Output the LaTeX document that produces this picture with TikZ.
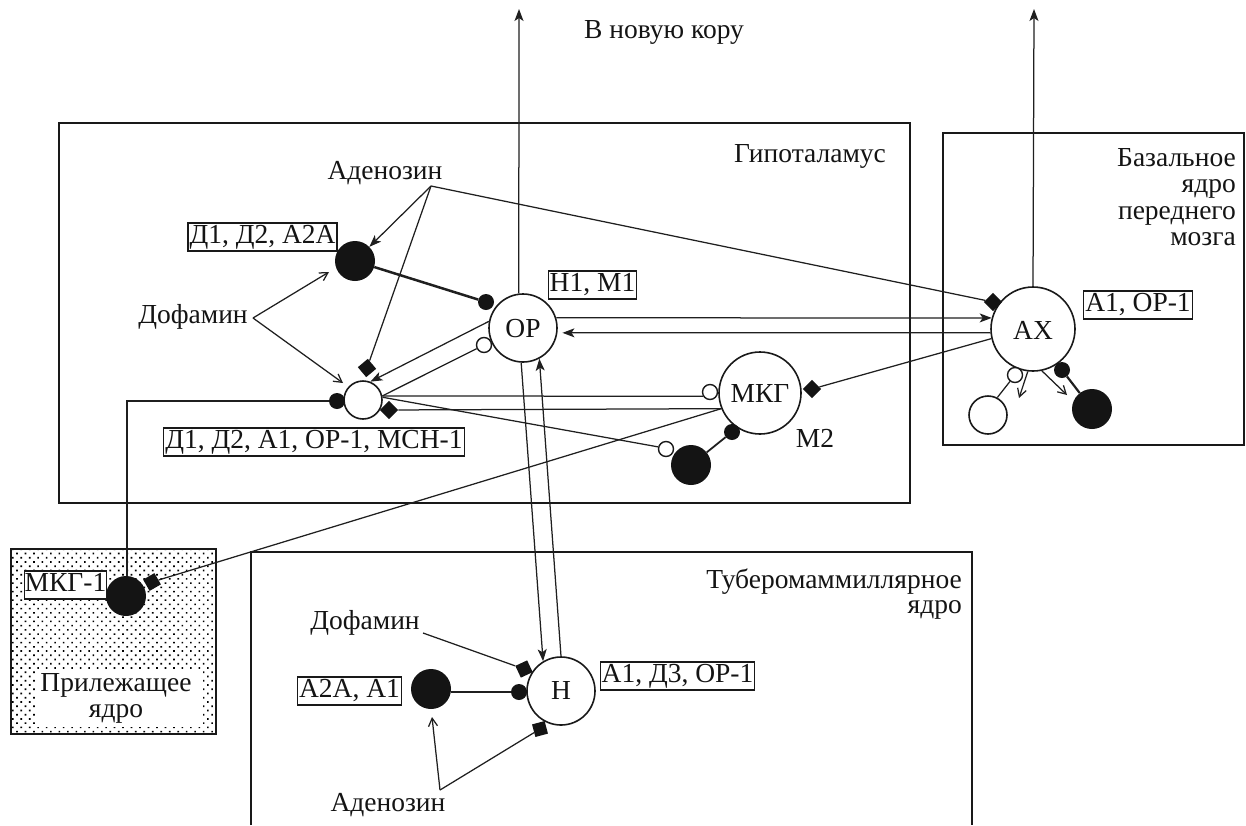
\documentclass[tikz,border=0pt]{standalone}
\usepackage{fontspec}
\setmainfont{Liberation Serif}
\usetikzlibrary{arrows.meta,patterns.meta}
\tikzset{
  x=1pt,y=-1pt,
  every node/.style={font=\fontsize{27.5}{28}\selectfont,text=black!92},
  txt/.style={anchor=base,inner sep=0pt,yshift=-1.2pt},
  lab/.style={anchor=base,draw=black!90,line width=1.2pt,fill=white,inner xsep=1.5pt,inner ysep=1pt,text height=19pt,text depth=7pt,yshift=-1pt},
  nbox/.style={draw=black!90,line width=1.9pt},
  nwhite/.style={circle,draw=black!90,fill=white,line width=1.6pt,inner sep=0pt},
  nblack/.style={circle,fill=black!92,inner sep=0pt,minimum size=40pt},
  tblack/.style={circle,fill=black!92,inner sep=0pt,minimum size=16pt},
  twhite/.style={circle,draw=black!90,fill=white,line width=1.4pt,inner sep=0pt,minimum size=15pt},
  dia/.style={rectangle,fill=black!92,inner sep=0pt,minimum size=13pt},
  thin line/.style={draw=black!88,line width=1.25pt},
  thick line/.style={draw=black!88,line width=2.5pt},
  solidarrow/.style={thin line,-{Stealth[length=12pt,width=9pt,inset=3pt]}},
  openarrow/.style={thin line,-{Straight Barb[length=8pt,width=9pt]}},
}
\begin{document}
\begin{tikzpicture}
\useasboundingbox (0,0) rectangle (1246,825);
% regions
\draw[nbox] (59,123) rectangle (910,503);
\draw[nbox] (943,133) rectangle (1244,445);
\draw[nbox,pattern={Dots[distance=6pt,radius=1.15pt,angle=45]}] (11,549) rectangle (216,734);
\fill[white] (37,670) rectangle (203,727);
\draw[nbox] (251,825) -- (251,552) -- (972,552) -- (972,825);
% main neurons
\node[nwhite,minimum size=68pt,name=OR] at (523,328) {};
\node[txt] at (523,336) {ОР};
\node[nwhite,minimum size=84pt,name=AX] at (1033,329) {};
\node[txt] at (1033,338) {АХ};
\node[nwhite,minimum size=82pt,name=MK] at (760,393) {};
\node[txt] at (760,401) {МКГ};
\node[nwhite,minimum size=68pt,name=HH] at (561,691) {};
\node[txt] at (561,698) {Н};
\node[nblack,name=bD] at (355,261) {};
\node[nwhite,minimum size=38pt,name=wN] at (363,400) {};
\node[nblack,name=bM] at (691,465) {};
\node[nblack,name=bAX] at (1092,409) {};
\node[nwhite,minimum size=38pt,name=wAX] at (988,415) {};
\node[nblack,name=bNa] at (126,596) {};
\node[nblack,name=bH] at (431,689) {};
% terminals
\node[tblack,name=sOR] at (486,302) {};
\node[twhite,name=oOR] at (484,345) {};
\node[tblack,name=sN] at (337,401) {};
\node[twhite,name=oMK] at (710,392) {};
\node[tblack,name=sMK] at (732,432) {};
\node[twhite,name=oBM] at (666,449) {};
\node[twhite,name=oAX] at (1015,375) {};
\node[tblack,name=sAX] at (1062,370) {};
\node[tblack,name=sH] at (519,692) {};
\node[dia,rotate=40,name=dN] at (367,368) {};
\node[dia,rotate=45,name=dNr] at (389,410) {};
\node[dia,rotate=45,name=dAX] at (993,302) {};
\node[dia,rotate=45,name=dMK] at (812,389) {};
\node[dia,rotate=30,name=dNa] at (152,582) {};
\node[dia,rotate=25,name=dH] at (524,669) {};
\node[dia,rotate=15,name=dHb] at (540,729) {};
% texts
\node[txt,name=tnew] at (664,37) {В новую кору};
\node[txt,name=thyp] at (810,161) {Гипоталамус};
\node[txt,anchor=base east,name=tb1] at (1236,165) {Базальное};
\node[txt,anchor=base east,name=tb2] at (1236,191.5) {ядро};
\node[txt,anchor=base east,name=tb3] at (1236,218) {переднего};
\node[txt,anchor=base east,name=tb4] at (1236,244.5) {мозга};
\node[txt,anchor=base east,name=tt1] at (962,587) {Туберомаммиллярное};
\node[txt,anchor=base east,name=tt2] at (962,612) {ядро};
\node[txt,name=tpr] at (116,690) {Прилежащее};
\node[txt,name=tpy] at (116,716) {ядро};
\node[txt,name=tad] at (385,178) {Аденозин};
\node[txt,name=tdo] at (193,322) {Дофамин};
\node[txt,name=tdo2] at (365,628) {Дофамин};
\node[txt,name=tad2] at (388,810) {Аденозин};
\node[txt,name=tm2] at (815,446) {М2};
\node[lab,name=lD] at (262.5,242) {Д1, Д2, А2А};
\node[lab,name=lN] at (314,447) {Д1, Д2, А1, ОР-1, МСН-1};
\node[lab,name=lH] at (592.5,290) {Н1, М1};
\node[lab,name=lA] at (1138,310) {А1, ОР-1};
\node[lab,inner xsep=0pt,name=lM] at (65.5,590) {МКГ-1};
\node[lab,name=lB] at (349.5,696) {А2А, А1};
\node[lab,name=lT] at (677.5,681) {А1, Д3, ОР-1};
% free ends
\coordinate (upOR) at (519,9);
\coordinate (upAX) at (1034,9);
\coordinate (apexA) at (431,186);
\coordinate (apexD) at (253,318);
\coordinate (apexB) at (440,790);
\coordinate (startD) at (423,633);
\coordinate (tipD1) at (329,272);
\coordinate (tipD2) at (343,383);
\coordinate (tipB) at (432,717);
\coordinate (tipAX1) at (1019,398);
\coordinate (tipAX2) at (1067,395);
\coordinate (corner) at (127,401);
% connectors
\draw[solidarrow] (OR.97) -- (upOR);
\draw[solidarrow] (AX.north) -- (upAX);
\draw[solidarrow] (OR.17) -- (AX.165);
\draw[solidarrow,shorten >=5pt] (AX.185.5) -- (OR.-8.5);
\draw[thin line] (AX.193) -- (dMK);
\draw[solidarrow] (OR.169) -- (wN.68);
\draw[thin line] (oOR) -- (wN.12);
\draw[thin line] (wN.12) -- (oMK.212);
\draw[thin line] (dNr) -- (MK.202);
\draw[thin line] (MK.202) -- (dNa);
\draw[thin line] (wN.8) -- (oBM.165);
\draw[thin line] (oAX) -- (wAX.62);
\draw[thick line,line width=1.8pt] (bM) -- (sMK);
\draw[thick line,line width=2.2pt] (sAX) -- (bAX);
\draw[thick line] (bD) -- (sOR);
\draw[thick line] (sN) -- (corner) -- (bNa.north -| corner);
\draw[thick line] (bH.east |- sH) -- (sH);
\draw[solidarrow] (apexA) -- (bD);
\draw[thin line] (apexA) -- (dN);
\draw[thin line] (apexA) -- (dAX);
\draw[openarrow] (apexD) -- (tipD1);
\draw[openarrow] (apexD) -- (tipD2);
\draw[openarrow] (AX.263) -- (tipAX1);
\draw[openarrow] (AX.-78) -- (tipAX2);
\draw[solidarrow] (OR.-93) -- (HH.121);
\draw[solidarrow] (HH.90) -- (OR.-62);
\draw[thin line] (startD) -- (dH);
\draw[openarrow] (apexB) -- (tipB);
\draw[thin line] (apexB) -- (dHb);
\end{tikzpicture}
\end{document}
